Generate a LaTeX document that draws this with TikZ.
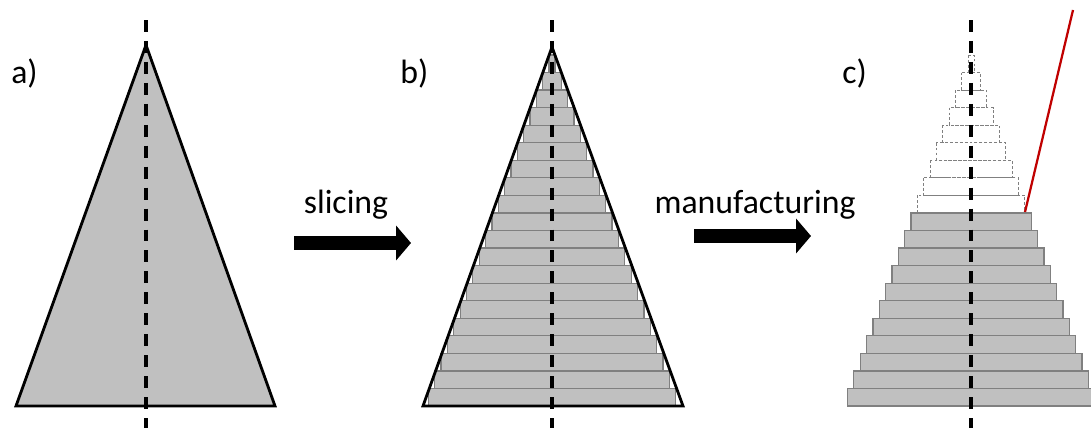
\documentclass[tikz,border=0pt]{standalone}
\usepackage{fontspec}
\setmainfont{Carlito}
\usetikzlibrary{arrows.meta}
\definecolor{slcGray}{HTML}{C0C0C0}
\definecolor{slcEdge}{HTML}{808080}
\definecolor{slcRed}{HTML}{C00000}
\tikzset{
  slc body/.style={fill=slcGray, draw=black, line width=2pt},
  slc layer/.style={fill=slcGray, draw=slcEdge, line width=0.9pt},
  slc ghost/.style={draw=slcEdge, dash pattern=on 2pt off 1.5pt, line width=0.7pt},
  slc axis/.style={draw=black, line width=2.4pt, dash pattern=on 8.5pt off 6.4pt},
  slc arrow/.style={draw=black, line width=10pt, -{Triangle[length=10.5pt, width=24pt]}},
  slc label/.style={font=\fontsize{24}{29}\selectfont, inner sep=0pt},
}

\begin{document}
\begin{tikzpicture}[x=0.025cm, y=-0.025cm]
  \useasboundingbox (0,0) rectangle (1091,429);

  % a) the full cone
  \coordinate (aTop) at (146,45);
  \coordinate (aL) at (16,406);
  \coordinate (aR) at (275,406);
  \draw[slc body, line join=miter] (aTop) -- (aL) -- (aR) -- cycle;
  \draw[slc axis] (146,20) coordinate (aAxisT) -- (146,428) coordinate (aAxisB);
  \node[slc label, anchor=base west] (labA) at (11,83) {a)};

  % arrow: slicing
  \coordinate (s1) at (294,243);
  \coordinate (s2) at (411,243);
  \draw[slc arrow] (s1) -- (s2);
  \node[slc label, anchor=base] (txtS) at (346,213) {slicing};

  % b) sliced cone, 20 layers inside the outline
  \foreach \i in {0,...,19} {
    \pgfmathsetmacro{\yb}{406-\i*17.55}
    \pgfmathsetmacro{\yt}{\yb-17.55}
    \pgfmathsetmacro{\hw}{0.3621*(\yt-47)}
    \draw[slc layer] (552-\hw,\yt) rectangle (552+\hw,\yb);
  }
  \draw[draw=black, line width=2pt, line join=miter] (552,47) coordinate (bTop) -- (423,406) -- (683,406) -- cycle;
  \draw[slc axis] (552,20) coordinate (bAxisT) -- (552,428) coordinate (bAxisB);
  \node[slc label, anchor=base west] (labB) at (400,83) {b)};

  % arrow: manufacturing
  \coordinate (m1) at (694,236);
  \coordinate (m2) at (811,236);
  \draw[slc arrow] (m1) -- (m2);
  \node[slc label, anchor=base] (txtM) at (755,213) {manufacturing};

  % c) layers built so far, the rest still dashed
  \begin{scope}[xshift=10.475cm]
    \foreach \i in {11,...,19} {
      \pgfmathsetmacro{\yb}{406-\i*17.55}
      \pgfmathsetmacro{\yt}{\yb-17.55}
      \pgfmathsetmacro{\hw}{0.3621*(\yt-47)}
      \draw[slc ghost] (552-\hw,\yt) rectangle (552+\hw,\yb);
    }
    \foreach \i in {0,...,10} {
      \pgfmathsetmacro{\yb}{406-\i*17.55}
      \pgfmathsetmacro{\yt}{\yb-17.55}
      \pgfmathsetmacro{\hw}{0.3621*(\yt-47)}
      \draw[slc layer] (552-\hw,\yt) rectangle (552+\hw,\yb);
    }
    \draw[slc axis] (552,20) coordinate (cAxisT) -- (552,428) coordinate (cAxisB);
  \end{scope}
  \node[slc label, anchor=base west] (labC) at (842,83) {c)};

  % red line from the current layer
  \coordinate (r1) at (1025,212);
  \coordinate (r2) at (1073,10);
  \draw[slcRed, line width=1.6pt] (r1) -- (r2);
\end{tikzpicture}
\end{document}
